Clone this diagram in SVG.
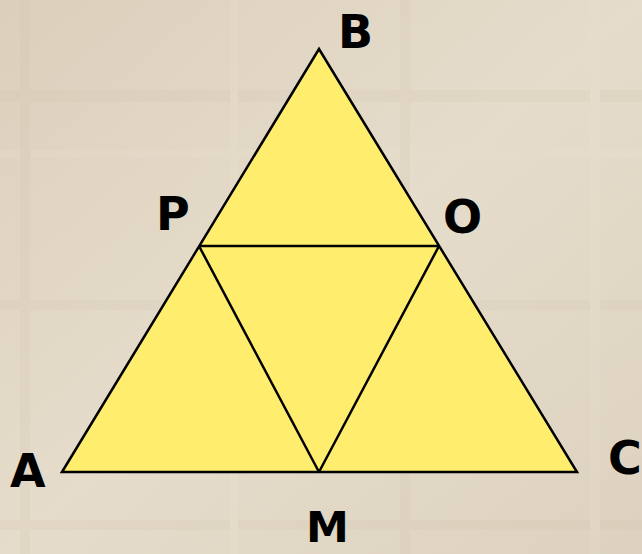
<svg xmlns="http://www.w3.org/2000/svg" width="642" height="554" viewBox="0 0 642 554">
<style>
.tri{fill:#FFEE6E;stroke:#000;stroke-width:2.5;stroke-linejoin:miter}
.seg{stroke:#000;stroke-width:2.5;fill:none}
.lbl{font-family:"DejaVu Sans","Liberation Sans",sans-serif;font-size:46px;font-weight:bold;fill:#000}
</style>
<defs>
<linearGradient id="bg" x1="0" y1="0" x2="1" y2="1">
<stop offset="0" stop-color="#DCD0BC"/>
<stop offset="0.5" stop-color="#E6DCCB"/>
<stop offset="1" stop-color="#DDD2BF"/>
</linearGradient>
</defs>
<rect width="642" height="554" fill="url(#bg)"/>
<g opacity="0.12">
<rect x="0" y="90" width="642" height="12" fill="#C8B9A0"/>
<rect x="0" y="150" width="642" height="8" fill="#F2EADC"/>
<rect x="0" y="300" width="642" height="10" fill="#C8B9A0"/>
<rect x="0" y="520" width="642" height="10" fill="#C8B9A0"/>
<rect x="20" y="0" width="10" height="554" fill="#C8B9A0"/>
<rect x="230" y="0" width="8" height="554" fill="#F2EADC"/>
<rect x="400" y="0" width="10" height="554" fill="#C8B9A0"/>
<rect x="590" y="0" width="10" height="554" fill="#F2EADC"/>
</g>
<g id="triangle">
<polygon class="tri" points="62,472 319,49 577,472"/>
</g>
<g id="connectors">
<line class="seg" x1="199" y1="246" x2="439" y2="246"/>
<line class="seg" x1="199" y1="246" x2="319" y2="472"/>
<line class="seg" x1="439" y1="246" x2="319" y2="472"/>
</g>
<g id="label-B"><text class="lbl" x="338" y="48">B</text></g>
<g id="label-P"><text class="lbl" x="156" y="230">P</text></g>
<g id="label-O"><text class="lbl" x="443" y="233">O</text></g>
<g id="label-A"><text class="lbl" x="10" y="487">A</text></g>
<g id="label-M"><text class="lbl" x="306" y="542" style="font-size:43px">M</text></g>
<g id="label-C"><text class="lbl" x="608" y="474">C</text></g>
</svg>
